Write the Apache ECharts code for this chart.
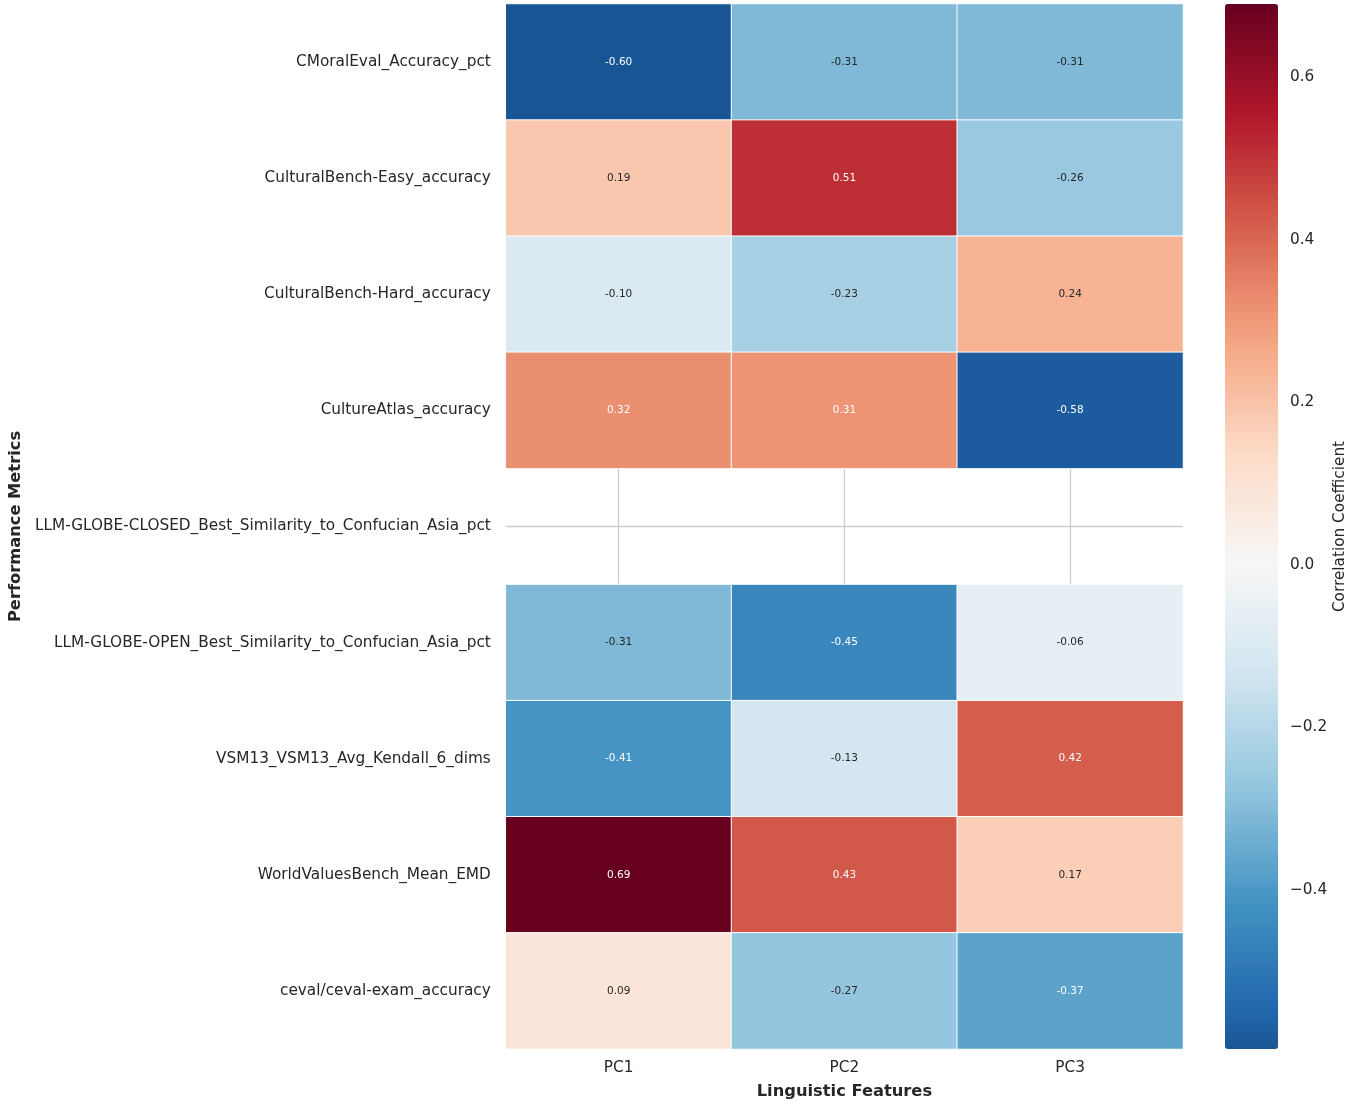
<!DOCTYPE html>
<html>
<head>
<meta charset="utf-8">
<script src="https://cdn.jsdelivr.net/npm/echarts@6/dist/echarts.min.js"></script>
<style>
html,body{margin:0;padding:0;background:#fff;}
#chart{width:1349px;height:1111px;}
</style>
</head>
<body>
<div id="chart"></div>
<script>
const rows = [
  'CMoralEval_Accuracy_pct',
  'CulturalBench-Easy_accuracy',
  'CulturalBench-Hard_accuracy',
  'CultureAtlas_accuracy',
  'LLM-GLOBE-CLOSED_Best_Similarity_to_Confucian_Asia_pct',
  'LLM-GLOBE-OPEN_Best_Similarity_to_Confucian_Asia_pct',
  'VSM13_VSM13_Avg_Kendall_6_dims',
  'WorldValuesBench_Mean_EMD',
  'ceval/ceval-exam_accuracy'
];
const cols = ['PC1', 'PC2', 'PC3'];
const pc1 = [-0.596, 0.19, -0.10, 0.32, null, -0.31, -0.41, 0.690, 0.09];
const pc2 = [-0.31, 0.51, -0.23, 0.31, null, -0.45, -0.13, 0.43, -0.27];
const pc3 = [-0.31, -0.26, 0.24, -0.58, null, -0.06, 0.42, 0.17, -0.37];
const cbarTicks = [-0.4, -0.2, 0.0, 0.2, 0.4, 0.6];

// RdBu_r colormap stops (matplotlib / ColorBrewer)
const rdbuR = ['#053061','#2166ac','#4393c3','#92c5de','#d1e5f0','#f7f7f7','#fddbc7','#f4a582','#d6604d','#b2182b','#67001f'];

const allVals = pc1.concat(pc2, pc3).filter(v => v != null);
const vmin = Math.min.apply(null, allVals);
const vmax = Math.max.apply(null, allVals);
// colormap centred at 0 (symmetric range), clipped to data range
const center = 0;
const vrange = Math.max(vmax - center, center - vmin);

function hexToRgb(h){ return [parseInt(h.slice(1,3),16), parseInt(h.slice(3,5),16), parseInt(h.slice(5,7),16)]; }
function cmapT(t){
  t = Math.max(0, Math.min(1, t));
  const pos = t * (rdbuR.length - 1);
  const i = Math.min(Math.floor(pos), rdbuR.length - 2);
  const f = pos - i;
  const a = hexToRgb(rdbuR[i]), b = hexToRgb(rdbuR[i+1]);
  return [0,1,2].map(k => a[k] + (b[k]-a[k]) * f);
}
function cmap(v){ return cmapT((v - (center - vrange)) / (2 * vrange)); }
function rgbStr(c){ return 'rgb(' + c.map(x => Math.round(x)).join(',') + ')'; }
// sampled colour stops covering [vmin, vmax]
const stops = [];
const NS = 96;
for (let k = 0; k <= NS; k++) stops.push(rgbStr(cmap(vmin + (vmax - vmin) * k / NS)));

function textColor(v){
  const rgb = cmap(v).map(c => {
    c = c / 255;
    return c <= 0.03928 ? c / 12.92 : Math.pow((c + 0.055) / 1.055, 2.4);
  });
  const lum = 0.2126*rgb[0] + 0.7152*rgb[1] + 0.0722*rgb[2];
  return lum > 0.408 ? '#262626' : '#ffffff';
}

const series = [pc1, pc2, pc3];
const data = [];
rows.forEach((r, i) => {
  series.forEach((arr, j) => {
    if (arr[i] != null) {
      data.push({ value: [j, i, arr[i]], label: { color: textColor(arr[i]) } });
    }
  });
});

const FONT = 'DejaVu Sans';
const TXT = '#262626';
const chart = echarts.init(document.getElementById('chart'), null, { renderer: 'canvas' });
chart.setOption({
  animation: false,
  backgroundColor: '#ffffff',
  textStyle: { fontFamily: FONT },
  grid: [
    { left: 503, top: 4, width: 680, height: 1045, containLabel: false },
    { left: 1225, top: 4, width: 53, height: 1045, containLabel: false }
  ],
  xAxis: [
    {
      type: 'category', data: cols, gridIndex: 0, position: 'bottom',
      axisLine: { show: false }, axisTick: { show: false }, splitLine: { show: false },
      axisLabel: { fontSize: 15.3, color: TXT, margin: 12, fontFamily: FONT },
      name: 'Linguistic Features', nameLocation: 'middle', nameGap: 35,
      nameTextStyle: { fontSize: 16.3, fontWeight: 'bold', color: TXT, fontFamily: FONT }
    },
    {
      type: 'value', gridIndex: 0, min: 0, max: 6, interval: 1, position: 'top',
      axisLine: { show: false }, axisTick: { show: false }, axisLabel: { show: false },
      splitLine: { show: true, lineStyle: { color: ['rgba(0,0,0,0)', '#cccccc'], width: 1.3 } }
    },
    {
      type: 'value', gridIndex: 1, min: 0, max: 1, show: false
    }
  ],
  yAxis: [
    {
      type: 'category', data: rows, gridIndex: 0, inverse: true,
      axisLine: { show: false }, axisTick: { show: false }, splitLine: { show: false },
      axisLabel: { fontSize: 15.3, color: TXT, margin: 15, fontFamily: FONT },
      name: 'Performance Metrics', nameLocation: 'middle', nameGap: 476,
      nameTextStyle: { fontSize: 16.3, fontWeight: 'bold', color: TXT, fontFamily: FONT }
    },
    {
      type: 'value', gridIndex: 0, min: 0, max: 18, interval: 1, position: 'right',
      axisLine: { show: false }, axisTick: { show: false }, axisLabel: { show: false },
      splitLine: { show: true, lineStyle: { color: ['rgba(0,0,0,0)', '#cccccc'], width: 1.3 } }
    },
    {
      type: 'value', gridIndex: 1, min: vmin, max: vmax, position: 'right',
      axisLine: { show: false },
      splitLine: { show: false },
      axisTick: { show: true, length: 5, lineStyle: { color: '#333333', width: 1.2 }, customValues: cbarTicks },
      axisLabel: {
        fontSize: 15.3, color: TXT, margin: 12, fontFamily: FONT, customValues: cbarTicks,
        padding: [3, 0, 0, 0],
        formatter: v => (v < -1e-9 ? '\u2212' : '') + Math.abs(v).toFixed(1)
      },
      name: 'Correlation Coefficient', nameLocation: 'middle', nameGap: 55,
      nameTextStyle: { fontSize: 15.3, color: TXT, fontFamily: FONT }
    }
  ],
  visualMap: {
    type: 'continuous', min: vmin, max: vmax, seriesIndex: 0,
    inRange: { color: stops },
    show: true, calculable: false, hoverLink: false,
    orient: 'vertical', left: 1225, top: 4, padding: 0,
    itemWidth: 53, itemHeight: 1045, text: null, showLabel: false
  },
  series: [{
    type: 'heatmap', xAxisIndex: 0, yAxisIndex: 0, data: data,
    itemStyle: { borderColor: '#ffffff', borderWidth: 1 },
    label: {
      show: true, fontSize: 10.5, fontFamily: FONT,
      formatter: p => p.value[2].toFixed(2)
    },
    emphasis: { disabled: true }
  }]
});
</script>
</body>
</html>
